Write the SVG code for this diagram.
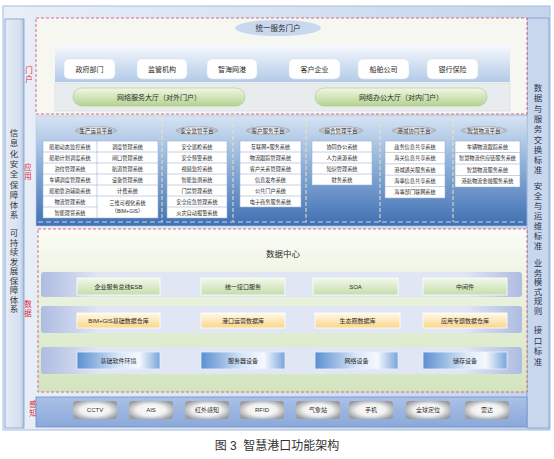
<svg xmlns="http://www.w3.org/2000/svg" width="554" height="459" viewBox="0 0 554 459">
<defs>
<linearGradient id="gFrame" x1="0" y1="0" x2="1" y2="0"><stop offset="0" stop-color="#e9eff8"/><stop offset="1" stop-color="#c4d4ec"/></linearGradient>
<linearGradient id="gPortalPanel" x1="0" y1="0" x2="0" y2="1"><stop offset="0" stop-color="#f6f9fd"/><stop offset="1" stop-color="#b2cae8"/></linearGradient>
<linearGradient id="gPill" x1="0" y1="0" x2="0" y2="1"><stop offset="0" stop-color="#f1f7e6"/><stop offset="1" stop-color="#b3d38e"/></linearGradient>
<linearGradient id="gApp" x1="0" y1="0" x2="0" y2="1"><stop offset="0" stop-color="#d6e3f3"/><stop offset="0.5" stop-color="#86a9d6"/><stop offset="1" stop-color="#3f70b3"/></linearGradient>
<radialGradient id="gHeader" cx="0.5" cy="0.5" r="0.5"><stop offset="0" stop-color="#ffffff"/><stop offset="0.6" stop-color="#e8ebf0"/><stop offset="1" stop-color="#a4acba"/></radialGradient>
<linearGradient id="gData" x1="0" y1="0" x2="0" y2="1"><stop offset="0" stop-color="#fbfcf6"/><stop offset="0.25" stop-color="#eff5e6"/><stop offset="1" stop-color="#d3e5bf"/></linearGradient>
<linearGradient id="gBand" x1="0" y1="0" x2="1" y2="0"><stop offset="0" stop-color="#aebce2"/><stop offset="0.12" stop-color="#e1e6f4"/><stop offset="0.88" stop-color="#e1e6f4"/><stop offset="1" stop-color="#aebce2"/></linearGradient>
<linearGradient id="gGreenBox" x1="0" y1="0" x2="0" y2="1"><stop offset="0" stop-color="#f2f8ea"/><stop offset="1" stop-color="#c4deab"/></linearGradient>
<linearGradient id="gYellowBox" x1="0" y1="0" x2="0" y2="1"><stop offset="0" stop-color="#fffaea"/><stop offset="1" stop-color="#fbd58a"/></linearGradient>
<linearGradient id="gBlueBox" x1="0" y1="0" x2="1" y2="0"><stop offset="0" stop-color="#5a8fd1"/><stop offset="0.5" stop-color="#d8e6f7"/><stop offset="0.75" stop-color="#f6f9fd"/><stop offset="1" stop-color="#78a4dc"/></linearGradient>
<radialGradient id="gSensor" cx="0.5" cy="0.5" r="0.6"><stop offset="0" stop-color="#ffffff"/><stop offset="0.55" stop-color="#f0f0f0"/><stop offset="1" stop-color="#9a9a9a"/></radialGradient>
<linearGradient id="gSense" x1="0" y1="0" x2="0" y2="1"><stop offset="0" stop-color="#aac1e7"/><stop offset="1" stop-color="#8ba8d9"/></linearGradient>
<linearGradient id="gSide" x1="0" y1="0" x2="1" y2="0"><stop offset="0" stop-color="#e4ebf5"/><stop offset="0.8" stop-color="#d5e0f0"/><stop offset="1" stop-color="#a9bfe2"/></linearGradient>
<style>
text{font-family:"Liberation Sans","Noto Sans CJK SC",sans-serif;fill:#2a2a2a;text-anchor:middle}
.side{font-size:8.5px;fill:#3a3a3a}
.rside{font-size:8.5px;fill:#2b3550}
.red{font-size:7.5px;fill:#e01e3c}
.pb{fill:#ffffff;stroke:#d9e2ee;stroke-width:0.6}
.pt{font-size:7px}
.pill{fill:url(#gPill);stroke:#a9c98a;stroke-width:0.6}
.hd{fill:url(#gHeader)}
.ht{font-size:5.5px}
.tb{fill:#ffffff;stroke:#9ab1d4;stroke-width:0.6}
.ln{stroke:#9ab1d4;stroke-width:0.6}
.ct{font-size:5.2px}
.sep{stroke:#ece6b4;stroke-width:1;stroke-dasharray:4,2}
.band{fill:url(#gBand)}
.gb{fill:url(#gGreenBox);stroke:#ffffff;stroke-width:0.8}
.yb{fill:url(#gYellowBox);stroke:#ffffff;stroke-width:0.8}
.bb{fill:url(#gBlueBox);stroke:#e8f0fa;stroke-width:0.8}
.dt{font-size:6px}
.sb{fill:url(#gSensor)}
.st{font-size:6px}
.dash{fill:none;stroke:#cf4a64;stroke-width:0.8;stroke-dasharray:3,2}
</style>
</defs>

<g id="frame">
<rect x="3" y="6" width="547" height="424" fill="url(#gFrame)" stroke="#a8bddc" stroke-width="1"/>
</g>

<g id="left-panel">
<rect x="5" y="19" width="19" height="409" fill="url(#gSide)" stroke="#7f9ccb" stroke-width="0.8"/>
<text class="side"><tspan x="14" y="136">信</tspan><tspan x="14" y="146.3">息</tspan><tspan x="14" y="156.6">化</tspan><tspan x="14" y="166.9">安</tspan><tspan x="14" y="177.2">全</tspan><tspan x="14" y="187.5">保</tspan><tspan x="14" y="197.8">障</tspan><tspan x="14" y="208.1">体</tspan><tspan x="14" y="218.4">系</tspan></text>
<text class="side"><tspan x="14" y="236">可</tspan><tspan x="14" y="245.5">持</tspan><tspan x="14" y="255">续</tspan><tspan x="14" y="264.5">发</tspan><tspan x="14" y="274">展</tspan><tspan x="14" y="283.5">保</tspan><tspan x="14" y="293">障</tspan><tspan x="14" y="302.5">体</tspan><tspan x="14" y="312">系</tspan></text>
</g>

<g id="right-panel">
<rect x="527" y="18" width="22" height="410" fill="#c9d7ee" stroke="#7f9ccb" stroke-width="0.8"/>
<text class="rside"><tspan x="538" y="91">数</tspan><tspan x="538" y="101.3">据</tspan><tspan x="538" y="111.6">与</tspan><tspan x="538" y="121.9">服</tspan><tspan x="538" y="132.2">务</tspan><tspan x="538" y="142.5">交</tspan><tspan x="538" y="152.8">换</tspan><tspan x="538" y="163.1">标</tspan><tspan x="538" y="173.4">准</tspan></text>
<text class="rside"><tspan x="538" y="189">安</tspan><tspan x="538" y="199">全</tspan><tspan x="538" y="209">与</tspan><tspan x="538" y="219">运</tspan><tspan x="538" y="229">维</tspan><tspan x="538" y="239">标</tspan><tspan x="538" y="249">准</tspan></text>
<text class="rside"><tspan x="538" y="266">业</tspan><tspan x="538" y="275.6">务</tspan><tspan x="538" y="285.2">模</tspan><tspan x="538" y="294.8">式</tspan><tspan x="538" y="304.4">规</tspan><tspan x="538" y="314">则</tspan></text>
<text class="rside"><tspan x="538" y="333">接</tspan><tspan x="538" y="343.5">口</tspan><tspan x="538" y="354">标</tspan><tspan x="538" y="364.5">准</tspan></text>
</g>

<g id="layer-labels">
<text class="red"><tspan x="29" y="73">门</tspan><tspan x="29" y="82">户</tspan></text>
<text class="red"><tspan x="28" y="170">应</tspan><tspan x="28" y="179">用</tspan></text>
<text class="red"><tspan x="28" y="307">数</tspan><tspan x="28" y="316">据</tspan></text>
<text class="red"><tspan x="33" y="407">感</tspan><tspan x="33" y="416">知</tspan></text>
</g>

<!-- Portal layer -->
<g id="portal">
<rect x="36" y="18" width="491" height="96" fill="#f7f7f1"/>
<rect x="36" y="18" width="491" height="96" class="dash"/>
<rect x="55" y="45" width="455" height="37" fill="url(#gPortalPanel)"/>
<rect x="55" y="83" width="455" height="28" fill="#e9ecee" stroke="#d4d8dc" stroke-width="0.5"/>
</g>
<g id="unified-portal">
<ellipse cx="278" cy="28" rx="43" ry="8" fill="#c8d9ef"/>
<text x="278" y="31" style="font-size:7.5px">统一服务门户</text>
</g>
<g id="gov"><rect class="pb" x="64" y="59" width="51" height="20" rx="5"/><text class="pt" x="89.5" y="71.5">政府部门</text></g>
<g id="regulator"><rect class="pb" x="137" y="59" width="50" height="20" rx="5"/><text class="pt" x="162" y="71.5">监管机构</text></g>
<g id="port-net"><rect class="pb" x="207" y="59" width="50" height="20" rx="5"/><text class="pt" x="232" y="71.5">智海网港</text></g>
<g id="client"><rect class="pb" x="289" y="59" width="51" height="20" rx="5"/><text class="pt" x="314.5" y="71.5">客户企业</text></g>
<g id="shipping"><rect class="pb" x="358" y="59" width="51" height="20" rx="5"/><text class="pt" x="383.5" y="71.5">船舶公司</text></g>
<g id="bank"><rect class="pb" x="427" y="59" width="51" height="20" rx="5"/><text class="pt" x="452.5" y="71.5">银行保险</text></g>
<g id="hall-out"><rect class="pill" x="73" y="88" width="172" height="18" rx="9"/><text class="pt" x="159" y="99.5">网络服务大厅（对外门户）</text></g>
<g id="hall-in"><rect class="pill" x="315" y="88" width="172" height="18" rx="9"/><text class="pt" x="401" y="99.5">网络办公大厅（对内门户）</text></g>

<!-- Application layer -->
<g id="application">
<rect x="36" y="116" width="491" height="110" fill="url(#gApp)" stroke="#b9c9e0" stroke-width="0.6"/>
<line class="sep" x1="162" y1="118" x2="162" y2="222"/>
<line class="sep" x1="233" y1="118" x2="233" y2="222"/>
<line class="sep" x1="306" y1="118" x2="306" y2="222"/>
<line class="sep" x1="380" y1="118" x2="380" y2="222"/>
<line class="sep" x1="453" y1="118" x2="453" y2="222"/>
<line x1="38" y1="222" x2="525" y2="222" stroke="#c9d6ea" stroke-width="1" stroke-dasharray="5,3"/>
</g>

<g id="app-production">
<ellipse class="hd" cx="96" cy="130.5" rx="21" ry="4.5"/>
<text class="ht" x="96" y="132.5">生产运营平台</text>
<rect class="tb" x="43" y="141" width="115" height="77"/>
<line class="ln" x1="97" y1="141" x2="97" y2="218"/>
<line class="ln" x1="43" y1="152" x2="158" y2="152"/>
<line class="ln" x1="43" y1="163" x2="158" y2="163"/>
<line class="ln" x1="43" y1="174" x2="158" y2="174"/>
<line class="ln" x1="43" y1="185" x2="158" y2="185"/>
<line class="ln" x1="43" y1="196" x2="158" y2="196"/>
<line class="ln" x1="43" y1="207" x2="97" y2="207"/>
<text class="ct" x="70" y="148.5">船舶动态监控系统</text>
<text class="ct" x="70" y="159.5">船舶计划调度系统</text>
<text class="ct" x="70" y="170.5">泊位管理系统</text>
<text class="ct" x="70" y="181.5">车辆调度管理系统</text>
<text class="ct" x="70" y="192.5">船舶靠泊辅助系统</text>
<text class="ct" x="70" y="203.5">物流管理系统</text>
<text class="ct" x="70" y="214.5">智能理货系统</text>
<text class="ct" x="127.5" y="148.5">调度管理系统</text>
<text class="ct" x="127.5" y="159.5">闸口管理系统</text>
<text class="ct" x="127.5" y="170.5">航道管理系统</text>
<text class="ct" x="127.5" y="181.5">设备管理系统</text>
<text class="ct" x="127.5" y="192.5">计费系统</text>
<text class="ct" x="127.5" y="205">三维可视化系统</text>
<text class="ct" x="127.5" y="213">（BIM+GIS）</text>
</g>

<g id="app-safety">
<ellipse class="hd" cx="197" cy="130.5" rx="21" ry="4.5"/>
<text class="ht" x="197" y="132.5">安全监管平台</text>
<rect class="tb" x="167" y="141" width="60" height="77"/>
<line class="ln" x1="167" y1="152" x2="227" y2="152"/>
<line class="ln" x1="167" y1="163" x2="227" y2="163"/>
<line class="ln" x1="167" y1="174" x2="227" y2="174"/>
<line class="ln" x1="167" y1="185" x2="227" y2="185"/>
<line class="ln" x1="167" y1="196" x2="227" y2="196"/>
<line class="ln" x1="167" y1="207" x2="227" y2="207"/>
<text class="ct" x="197" y="148.5">安全巡检系统</text>
<text class="ct" x="197" y="159.5">安全预警系统</text>
<text class="ct" x="197" y="170.5">视频监控系统</text>
<text class="ct" x="197" y="181.5">智能监测系统</text>
<text class="ct" x="197" y="192.5">门禁管理系统</text>
<text class="ct" x="197" y="203.5">安全应急管理系统</text>
<text class="ct" x="197" y="214.5">火灾自动报警系统</text>
</g>

<g id="app-customer">
<ellipse class="hd" cx="268" cy="130.5" rx="22" ry="4.5"/>
<text class="ht" x="268" y="132.5">客户服务平台</text>
<rect class="tb" x="240" y="141" width="61" height="66"/>
<line class="ln" x1="240" y1="152" x2="301" y2="152"/>
<line class="ln" x1="240" y1="163" x2="301" y2="163"/>
<line class="ln" x1="240" y1="174" x2="301" y2="174"/>
<line class="ln" x1="240" y1="185" x2="301" y2="185"/>
<line class="ln" x1="240" y1="196" x2="301" y2="196"/>
<text class="ct" x="270.5" y="148.5">互联网+服务系统</text>
<text class="ct" x="270.5" y="159.5">物流跟踪管理系统</text>
<text class="ct" x="270.5" y="170.5">客户关系管理系统</text>
<text class="ct" x="270.5" y="181.5">信息发布系统</text>
<text class="ct" x="270.5" y="192.5">公共门户系统</text>
<text class="ct" x="270.5" y="203.5">电子商务服务系统</text>
</g>

<g id="app-management">
<ellipse class="hd" cx="341" cy="130.5" rx="22" ry="4.5"/>
<text class="ht" x="341" y="132.5">综合管理平台</text>
<rect class="tb" x="312" y="141" width="60" height="44"/>
<line class="ln" x1="312" y1="152" x2="372" y2="152"/>
<line class="ln" x1="312" y1="163" x2="372" y2="163"/>
<line class="ln" x1="312" y1="174" x2="372" y2="174"/>
<text class="ct" x="342" y="148.5">协同办公系统</text>
<text class="ct" x="342" y="159.5">人力资源系统</text>
<text class="ct" x="342" y="170.5">知识管理系统</text>
<text class="ct" x="342" y="181.5">财务系统</text>
</g>

<g id="app-coordination">
<ellipse class="hd" cx="414" cy="130.5" rx="22" ry="4.5"/>
<text class="ht" x="414" y="132.5">港城协同平台</text>
<rect class="tb" x="385" y="141" width="60" height="57"/>
<line class="ln" x1="385" y1="152.4" x2="445" y2="152.4"/>
<line class="ln" x1="385" y1="163.8" x2="445" y2="163.8"/>
<line class="ln" x1="385" y1="175.2" x2="445" y2="175.2"/>
<line class="ln" x1="385" y1="186.6" x2="445" y2="186.6"/>
<text class="ct" x="415" y="148.7">政务信息共享系统</text>
<text class="ct" x="415" y="160.1">海关信息共享系统</text>
<text class="ct" x="415" y="171.5">港城通关服务系统</text>
<text class="ct" x="415" y="182.9">海事信息共享系统</text>
<text class="ct" x="415" y="194.3">海事部门联网系统</text>
</g>

<g id="app-logistics">
<ellipse class="hd" cx="484" cy="130.5" rx="23" ry="4.5"/>
<text class="ht" x="484" y="132.5">智慧物流平台</text>
<rect class="tb" x="455" y="141" width="65" height="46"/>
<line class="ln" x1="455" y1="152.5" x2="520" y2="152.5"/>
<line class="ln" x1="455" y1="164" x2="520" y2="164"/>
<line class="ln" x1="455" y1="175.5" x2="520" y2="175.5"/>
<text class="ct" x="487.5" y="148.8">车辆物流跟踪系统</text>
<text class="ct" x="487.5" y="160.3">智慧物流供应链服务系统</text>
<text class="ct" x="487.5" y="171.8">智慧物流服务系统</text>
<text class="ct" x="487.5" y="183.3">港航物流金融服务系统</text>
</g>

<!-- Data layer -->
<g id="data-center">
<rect x="38" y="229" width="489" height="163" fill="url(#gData)"/>
<rect x="38" y="229" width="489" height="163" class="dash"/>
<text x="283" y="257" style="font-size:8.5px">数据中心</text>
<rect class="band" x="41" y="272" width="481" height="25" rx="3"/>
<rect class="band" x="41" y="306" width="481" height="27" rx="3"/>
<rect class="band" x="41" y="347" width="481" height="27" rx="3"/>
</g>
<g id="esb"><rect class="gb" x="77" y="278" width="83" height="17"/><text class="dt" x="118.5" y="288.5">企业服务总线ESB</text></g>
<g id="unified-interface"><rect class="gb" x="201" y="278" width="84" height="17"/><text class="dt" x="243" y="288.5">统一接口服务</text></g>
<g id="soa"><rect class="gb" x="313" y="278" width="85" height="17"/><text class="dt" x="355.5" y="288.5">SOA</text></g>
<g id="middleware"><rect class="gb" x="423" y="278" width="84" height="17"/><text class="dt" x="465" y="288.5">中间件</text></g>
<g id="bim-gis-db"><rect class="yb" x="77" y="313" width="83" height="15"/><text class="dt" x="118.5" y="322.5">BIM+GIS基础数据仓库</text></g>
<g id="port-ops-db"><rect class="yb" x="201" y="313" width="84" height="15"/><text class="dt" x="243" y="322.5">港口运营数据库</text></g>
<g id="eco-db"><rect class="yb" x="315" y="313" width="85" height="15"/><text class="dt" x="357.5" y="322.5">生态圈数据库</text></g>
<g id="topic-db"><rect class="yb" x="423" y="313" width="84" height="15"/><text class="dt" x="465" y="322.5">应用专题数据仓库</text></g>
<g id="base-software"><rect class="bb" x="77" y="352" width="83" height="17"/><text class="dt" x="118.5" y="362.5">基础软件环境</text></g>
<g id="servers"><rect class="bb" x="201" y="352" width="84" height="17"/><text class="dt" x="243" y="362.5">服务器设备</text></g>
<g id="network"><rect class="bb" x="315" y="352" width="83" height="17"/><text class="dt" x="356.5" y="362.5">网络设备</text></g>
<g id="storage"><rect class="bb" x="423" y="352" width="84" height="17"/><text class="dt" x="465" y="362.5">储存设备</text></g>

<!-- Sensing layer -->
<g id="sensing">
<rect x="36" y="397" width="491" height="30" fill="url(#gSense)" stroke="#6f90c8" stroke-width="0.8"/>
</g>
<g id="cctv"><rect class="sb" x="73" y="401" width="44" height="18" rx="3"/><text class="st" x="95" y="412">CCTV</text></g>
<g id="ais"><rect class="sb" x="129" y="401" width="44" height="18" rx="3"/><text class="st" x="151" y="412">AIS</text></g>
<g id="infrared"><rect class="sb" x="185" y="401" width="44" height="18" rx="3"/><text class="st" x="207" y="412">红外感知</text></g>
<g id="rfid"><rect class="sb" x="240" y="401" width="44" height="18" rx="3"/><text class="st" x="262" y="412">RFID</text></g>
<g id="weather"><rect class="sb" x="296" y="401" width="44" height="18" rx="3"/><text class="st" x="318" y="412">气象站</text></g>
<g id="phone"><rect class="sb" x="349" y="401" width="44" height="18" rx="3"/><text class="st" x="371" y="412">手机</text></g>
<g id="gps"><rect class="sb" x="406" y="401" width="44" height="18" rx="3"/><text class="st" x="428" y="412">全球定位</text></g>
<g id="radar"><rect class="sb" x="465" y="401" width="44" height="18" rx="3"/><text class="st" x="487" y="412">雷达</text></g>

<g id="caption">
<text x="277" y="450" style="font-size:12px;fill:#333">图 3&#160;&#160;智慧港口功能架构</text>
</g>
</svg>
